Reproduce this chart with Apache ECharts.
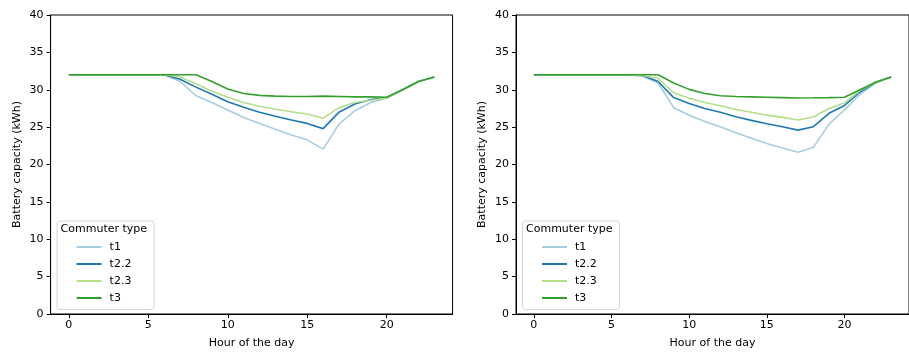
<!DOCTYPE html>
<html>
<head>
<meta charset="utf-8">
<script src="https://cdn.jsdelivr.net/npm/echarts@6/dist/echarts.min.js"></script>
<style>
  html, body { margin: 0; padding: 0; background: #fff; }
  #chart { width: 909px; height: 354px; }
</style>
</head>
<body>
<div id="chart"></div>
<script>
const hours = [0, 1, 2, 3, 4, 5, 6, 7, 8, 9, 10, 11, 12, 13, 14, 15, 16, 17, 18, 19, 20, 21, 22, 23];
const commuterTypes = ['t1', 't2.2', 't2.3', 't3'];
const xTicks = [0, 5, 10, 15, 20];

// left panel
const leftT1 = [32, 32, 32, 32, 32, 32, 32, 31.1, 29.2, 28.3, 27.3, 26.3, 25.5, 24.7, 23.95, 23.3, 22.05, 25.4, 27.2, 28.3, 28.85, 30.0, 31.1, 31.7];
const leftT22 = [32, 32, 32, 32, 32, 32, 32, 31.4, 30.35, 29.4, 28.4, 27.65, 27.0, 26.45, 25.95, 25.5, 24.8, 27.0, 28.1, 28.7, 28.95, 30.0, 31.1, 31.7];
const leftT23 = [32, 32, 32, 32, 32, 32, 32, 31.7, 30.8, 29.8, 29.0, 28.3, 27.8, 27.4, 27.05, 26.75, 26.2, 27.6, 28.3, 28.6, 28.9, 30.0, 31.1, 31.7];
const leftT3 = [32, 32, 32, 32, 32, 32, 32, 32, 32, 31.1, 30.1, 29.5, 29.25, 29.15, 29.1, 29.1, 29.15, 29.1, 29.05, 29.05, 29.0, 30.0, 31.1, 31.7];

// right panel
const rightT1 = [32, 32, 32, 32, 32, 32, 32, 31.8, 30.9, 27.6, 26.6, 25.75, 25.05, 24.25, 23.5, 22.8, 22.2, 21.65, 22.3, 25.4, 27.3, 29.4, 30.9, 31.7];
const rightT22 = [32, 32, 32, 32, 32, 32, 32, 31.9, 31.1, 28.95, 28.15, 27.5, 26.98, 26.4, 25.9, 25.45, 25.05, 24.6, 25.06, 26.85, 27.9, 29.7, 31.0, 31.7];
const rightT23 = [32, 32, 32, 32, 32, 32, 32, 31.9, 31.5, 29.6, 28.85, 28.3, 27.85, 27.35, 27.0, 26.6, 26.3, 25.95, 26.35, 27.5, 28.25, 29.9, 31.0, 31.7];
const rightT3 = [32, 32, 32, 32, 32, 32, 32, 32, 32, 30.9, 30.05, 29.5, 29.2, 29.1, 29.05, 29.0, 28.95, 28.9, 28.92, 28.95, 29.0, 30.0, 31.0, 31.7];

const colors = ['#a6cee3', '#1f78b4', '#b2df8a', '#33a02c'];
const font = 'DejaVu Sans';
const fs = 11;

const pair = (vals) => hours.map((h, i) => [h, vals[i]]);

const panels = [
  { left: 50.6, series: [leftT1, leftT22, leftT23, leftT3] },
  { left: 516, series: [rightT1, rightT22, rightT23, rightT3] }
];

const chart = echarts.init(document.getElementById('chart'));

const grid = panels.map(p => ({
  left: p.left,
  top: 15,
  width: 402,
  height: 299,
  show: true,
  borderColor: '#000',
  borderWidth: 1,
  backgroundColor: 'transparent'
}));

const xAxis = panels.map((p, i) => ({
  type: 'value',
  gridIndex: i,
  min: -1.15,
  max: 24.15,
  name: 'Hour of the day',
  nameLocation: 'middle',
  nameGap: 23.5,
  nameMoveOverlap: false,
  nameTextStyle: { fontFamily: font, fontSize: fs, color: '#000' },
  axisLine: { show: true, onZero: false, lineStyle: { color: '#000', width: 1 } },
  axisTick: { show: true, length: 4, customValues: xTicks, lineStyle: { color: '#000' } },
  axisLabel: { customValues: xTicks, margin: 6, fontFamily: font, fontSize: fs, color: '#000' },
  splitLine: { show: false }
}));

const yAxis = panels.map((p, i) => ({
  type: 'value',
  gridIndex: i,
  min: 0,
  max: 40,
  interval: 5,
  name: 'Battery capacity (kWh)',
  nameLocation: 'middle',
  nameRotate: 90,
  nameGap: 28,
  nameMoveOverlap: false,
  nameTextStyle: { fontFamily: font, fontSize: fs, color: '#000' },
  axisLine: { show: true, onZero: false, lineStyle: { color: '#000', width: 1 } },
  axisTick: { show: true, length: 4, lineStyle: { color: '#000' } },
  axisLabel: { margin: 7, fontFamily: font, fontSize: fs, color: '#000' },
  splitLine: { show: false }
}));

const series = [];
panels.forEach((p, gi) => {
  p.series.forEach((vals, k) => {
    series.push({
      name: commuterTypes[k],
      type: 'line',
      xAxisIndex: gi,
      yAxisIndex: gi,
      data: pair(vals),
      symbol: 'none',
      animation: false,
      lineStyle: { color: colors[k], width: 1.6 },
      itemStyle: { color: colors[k] }
    });
  });
});

const legend = panels.map(p => ({
  data: commuterTypes,
  orient: 'vertical',
  left: p.left + 26,
  top: 239.5,
  padding: 0,
  icon: 'rect',
  itemWidth: 25,
  itemHeight: 2,
  itemGap: 2,
  selectedMode: false,
  textStyle: { fontFamily: font, fontSize: fs, color: '#000', lineHeight: 15, padding: [0, 0, 0, 3] }
}));

const graphic = [];
panels.forEach(p => {
  graphic.push({
    type: 'rect',
    left: p.left + 6,
    top: 220.5,
    z: 0,
    shape: { width: 97, height: 88.5, r: 3 },
    style: { fill: 'rgba(255,255,255,0.8)', stroke: '#d4d4d4', lineWidth: 1 }
  });
  graphic.push({
    type: 'text',
    left: p.left + 10,
    top: 223.5,
    z: 1,
    style: { text: 'Commuter type', font: fs + 'px "' + font + '"', fill: '#000' }
  });
});

chart.setOption({
  animation: false,
  grid,
  xAxis,
  yAxis,
  legend,
  graphic,
  series
});
</script>
</body>
</html>
